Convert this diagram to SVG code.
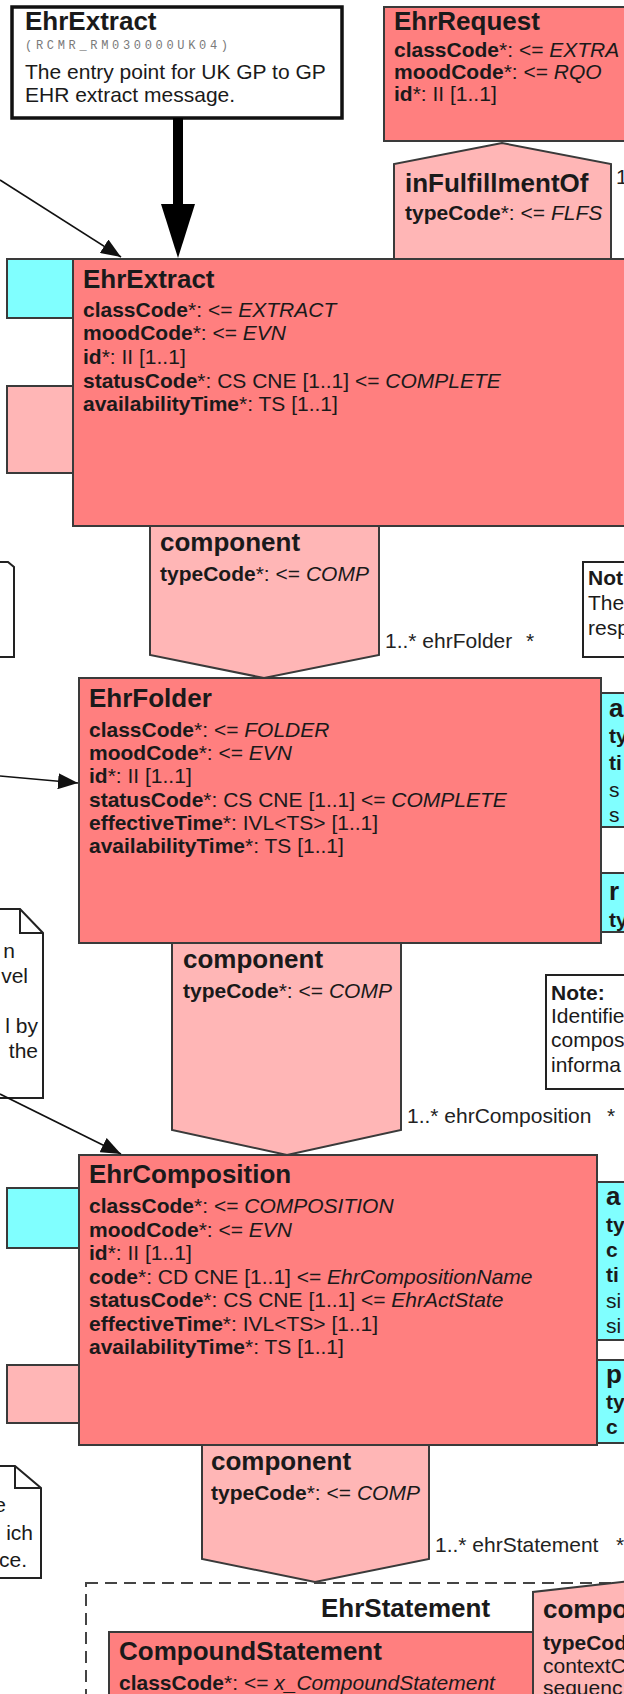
<svg xmlns="http://www.w3.org/2000/svg" width="624" height="1694" viewBox="0 0 624 1694">
<defs>
<style>
text{font-family:"Liberation Sans",Arial,sans-serif;fill:#1a1a1a}
.t{font-size:26px;font-weight:bold}
.a{font-size:21px}
.b{font-weight:bold}
.i{font-style:italic}
.lbl{font-size:21px;fill:#222}
.red{fill:#FF7F7F;stroke:#3a3a3a;stroke-width:2}
.pink{fill:#FFB6B6;stroke:#3a3a3a;stroke-width:2}
.cyan{fill:#80FFFF;stroke:#3a3a3a;stroke-width:2}
.note{fill:#fff;stroke:#222;stroke-width:2}
.con{stroke:#111;stroke-width:1.6;fill:none}
.mono{font-family:"Liberation Mono",monospace;font-size:12px;fill:#7a7a7a}
</style>
<marker id="ah" viewBox="0 0 20 16" refX="20" refY="8" markerWidth="20" markerHeight="16" markerUnits="userSpaceOnUse" orient="auto">
<path d="M0,0 L20,8 L0,16 z" fill="#111"/>
</marker>
</defs>

<g id="noteEhrExtract">
<rect x="12" y="7" width="330" height="111" fill="#fff" stroke="#111" stroke-width="3.5"/>
<text x="25" y="30" class="t">EhrExtract</text>
<text x="25" y="49" class="mono" textLength="203" lengthAdjust="spacing">(RCMR_RM030000UK04)</text>
<text x="25" y="79" class="a">The entry point for UK GP to GP</text>
<text x="25" y="102" class="a">EHR extract message.</text>
</g>

<g id="inFulfillmentOf">
<polygon class="pink" points="394,259 394,164 502,143 611,164 611,259"/>
<text x="405" y="192" class="t">inFulfillmentOf</text>
<text x="405" y="220" class="a"><tspan class="b">typeCode</tspan>*: &lt;= <tspan class="i">FLFS</tspan></text>
<text x="616" y="184" class="lbl">1</text>
</g>

<g id="EhrRequest">
<rect class="red" x="384" y="7" width="260" height="134"/>
<text x="394" y="30" class="t">EhrRequest</text>
<text x="394" y="57" class="a"><tspan class="b">classCode</tspan>*: &lt;= <tspan class="i">EXTRA</tspan></text>
<text x="394" y="79" class="a"><tspan class="b">moodCode</tspan>*: &lt;= <tspan class="i">RQO</tspan></text>
<text x="394" y="101" class="a"><tspan class="b">id</tspan>*: II [1..1]</text>
</g>

<g id="leftCyan1"><rect class="cyan" x="7" y="259" width="70" height="59"/></g>
<g id="leftPink1"><rect class="pink" x="7" y="386" width="70" height="87"/></g>

<g id="component1">
<polygon class="pink" points="150,526 379,526 379,655 264,678 150,655"/>
<text x="160" y="551" class="t">component</text>
<text x="160" y="581" class="a"><tspan class="b">typeCode</tspan>*: &lt;= <tspan class="i">COMP</tspan></text>
<text x="385" y="648" class="lbl">1..* ehrFolder</text>
<text x="526" y="648" class="lbl">*</text>
</g>

<g id="EhrExtract">
<rect class="red" x="73" y="259" width="580" height="267"/>
<text x="83" y="288" class="t">EhrExtract</text>
<text x="83" y="317" class="a"><tspan class="b">classCode</tspan>*: &lt;= <tspan class="i">EXTRACT</tspan></text>
<text x="83" y="340" class="a"><tspan class="b">moodCode</tspan>*: &lt;= <tspan class="i">EVN</tspan></text>
<text x="83" y="364" class="a"><tspan class="b">id</tspan>*: II [1..1]</text>
<text x="83" y="388" class="a"><tspan class="b">statusCode</tspan>*: CS CNE [1..1] &lt;= <tspan class="i">COMPLETE</tspan></text>
<text x="83" y="411" class="a"><tspan class="b">availabilityTime</tspan>*: TS [1..1]</text>
</g>

<g id="leftBox1"><path d="M0,562 H8 L14,567 V657 H0" fill="#fff" stroke="#222" stroke-width="2"/></g>

<g id="noteRight1">
<rect class="note" x="583" y="562" width="60" height="95"/>
<text x="588" y="585" class="a b">Not</text>
<text x="588" y="610" class="a">The</text>
<text x="588" y="635" class="a">resp</text>
</g>

<g id="rightCyan1">
<rect class="cyan" x="601" y="693" width="40" height="134"/>
<text x="609" y="717" class="t">a</text>
<text x="609" y="743" class="a b">ty</text>
<text x="609" y="770" class="a b">ti</text>
<text x="609" y="797" class="a">s</text>
<text x="609" y="822" class="a">s</text>
</g>
<g id="rightCyan2">
<rect class="cyan" x="601" y="873" width="40" height="59"/>
<text x="609" y="900" class="t">r</text>
<text x="609" y="927" class="a b">ty</text>
</g>

<g id="component2">
<polygon class="pink" points="172,943 401,943 401,1130 287,1155 172,1130"/>
<text x="183" y="968" class="t">component</text>
<text x="183" y="998" class="a"><tspan class="b">typeCode</tspan>*: &lt;= <tspan class="i">COMP</tspan></text>
<text x="407" y="1123" class="lbl">1..* ehrComposition</text>
<text x="607" y="1123" class="lbl">*</text>
</g>

<g id="EhrFolder">
<rect class="red" x="79" y="678" width="522" height="265"/>
<text x="89" y="707" class="t">EhrFolder</text>
<text x="89" y="737" class="a"><tspan class="b">classCode</tspan>*: &lt;= <tspan class="i">FOLDER</tspan></text>
<text x="89" y="760" class="a"><tspan class="b">moodCode</tspan>*: &lt;= <tspan class="i">EVN</tspan></text>
<text x="89" y="783" class="a"><tspan class="b">id</tspan>*: II [1..1]</text>
<text x="89" y="807" class="a"><tspan class="b">statusCode</tspan>*: CS CNE [1..1] &lt;= <tspan class="i">COMPLETE</tspan></text>
<text x="89" y="830" class="a"><tspan class="b">effectiveTime</tspan>*: IVL&lt;TS&gt; [1..1]</text>
<text x="89" y="853" class="a"><tspan class="b">availabilityTime</tspan>*: TS [1..1]</text>
</g>

<g id="noteLeft1">
<path d="M0,909 H20 L43,933 V1098 H0" fill="#fff" stroke="#222" stroke-width="2"/>
<path d="M20,909 V933 H43" fill="none" stroke="#222" stroke-width="2"/>
<text x="15" y="958" class="a" text-anchor="end">n</text>
<text x="28" y="983" class="a" text-anchor="end">vel</text>
<text x="38" y="1033" class="a" text-anchor="end">l by</text>
<text x="38" y="1058" class="a" text-anchor="end">the</text>
</g>

<g id="noteRight2">
<rect class="note" x="546" y="975" width="100" height="114"/>
<text x="551" y="1000" class="a b">Note:</text>
<text x="551" y="1023" class="a">Identifie</text>
<text x="551" y="1047" class="a">compos</text>
<text x="551" y="1072" class="a">informa</text>
</g>

<g id="leftCyan2"><rect class="cyan" x="7" y="1188" width="74" height="60"/></g>
<g id="leftPink2"><rect class="pink" x="7" y="1365" width="74" height="58"/></g>

<g id="component3">
<polygon class="pink" points="202,1445 429,1445 429,1559 315,1582 202,1559"/>
<text x="211" y="1470" class="t">component</text>
<text x="211" y="1500" class="a"><tspan class="b">typeCode</tspan>*: &lt;= <tspan class="i">COMP</tspan></text>
<text x="435" y="1552" class="lbl">1..* ehrStatement</text>
<text x="616" y="1552" class="lbl">*</text>
</g>

<g id="EhrComposition">
<rect class="red" x="79" y="1155" width="518" height="290"/>
<text x="89" y="1183" class="t">EhrComposition</text>
<text x="89" y="1213" class="a"><tspan class="b">classCode</tspan>*: &lt;= <tspan class="i">COMPOSITION</tspan></text>
<text x="89" y="1237" class="a"><tspan class="b">moodCode</tspan>*: &lt;= <tspan class="i">EVN</tspan></text>
<text x="89" y="1260" class="a"><tspan class="b">id</tspan>*: II [1..1]</text>
<text x="89" y="1284" class="a"><tspan class="b">code</tspan>*: CD CNE [1..1] &lt;= <tspan class="i">EhrCompositionName</tspan></text>
<text x="89" y="1307" class="a"><tspan class="b">statusCode</tspan>*: CS CNE [1..1] &lt;= <tspan class="i">EhrActState</tspan></text>
<text x="89" y="1331" class="a"><tspan class="b">effectiveTime</tspan>*: IVL&lt;TS&gt; [1..1]</text>
<text x="89" y="1354" class="a"><tspan class="b">availabilityTime</tspan>*: TS [1..1]</text>
</g>

<g id="rightCyan3">
<rect class="cyan" x="597" y="1182" width="44" height="158"/>
<text x="606" y="1205" class="t">a</text>
<text x="606" y="1232" class="a b">ty</text>
<text x="606" y="1257" class="a b">c</text>
<text x="606" y="1282" class="a b">ti</text>
<text x="606" y="1308" class="a">si</text>
<text x="606" y="1333" class="a">si</text>
</g>
<g id="rightCyan4">
<rect class="cyan" x="597" y="1360" width="44" height="83"/>
<text x="606" y="1383" class="t">p</text>
<text x="606" y="1409" class="a b">ty</text>
<text x="606" y="1434" class="a b">c</text>
</g>

<g id="noteLeft2">
<path d="M0,1466 H15 L41,1488 V1578 H0" fill="#fff" stroke="#222" stroke-width="2"/>
<path d="M15,1466 V1488 H41" fill="none" stroke="#222" stroke-width="2"/>
<text x="6" y="1512" class="a" text-anchor="end">e</text>
<text x="33" y="1540" class="a" text-anchor="end">ich</text>
<text x="27" y="1567" class="a" text-anchor="end">ce.</text>
</g>

<g id="EhrStatement">
<rect x="86" y="1583" width="600" height="200" fill="none" stroke="#444" stroke-width="2" stroke-dasharray="12 7"/>
<text x="321" y="1617" class="t">EhrStatement</text>
</g>

<g id="CompoundStatement">
<rect class="red" x="109" y="1632" width="424" height="100"/>
<text x="119" y="1660" class="t">CompoundStatement</text>
<text x="119" y="1690" class="a"><tspan class="b">classCode</tspan>*: &lt;= <tspan class="i">x_CompoundStatement</tspan></text>
</g>

<g id="componentStatement">
<polygon class="pink" points="533,1700 533,1592 640,1580 640,1700"/>
<text x="543" y="1618" class="t">compo</text>
<text x="543" y="1650" class="a b">typeCod</text>
<text x="543" y="1673" class="a">contextC</text>
<text x="543" y="1695" class="a">sequenc</text>
</g>

<g id="connectors">
<line class="con" x1="0" y1="180" x2="121" y2="257" marker-end="url(#ah)"/>
<line x1="178" y1="118" x2="178" y2="208" stroke="#000" stroke-width="10"/>
<polygon points="161,204 195,204 178,258" fill="#000"/>
<line class="con" x1="0" y1="776" x2="78" y2="783" marker-end="url(#ah)"/>
<line class="con" x1="0" y1="1094" x2="121" y2="1154" marker-end="url(#ah)"/>
</g>
</svg>
